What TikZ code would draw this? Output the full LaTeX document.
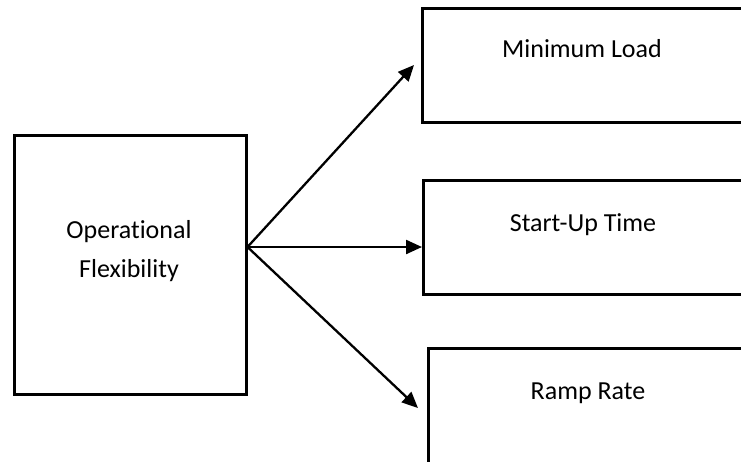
\documentclass[tikz,border=0pt]{standalone}
\usepackage{fontspec}
\setmainfont[Ligatures={NoCommon,NoRequired,NoContextual}]{Carlito}
\usetikzlibrary{arrows.meta,calc}
\begin{document}
\begin{tikzpicture}[x=1pt,y=-1pt,
  box/.style={draw=black, line width=2.5pt, rectangle, inner sep=0pt, anchor=north west},
  lbl/.style={font=\fontsize{26}{31}\selectfont, anchor=base, inner sep=0pt},
  conn/.style={line width=2.3pt, -{Triangle[length=16pt,width=14pt]}}]
\useasboundingbox (0,0) rectangle (741,461);
\clip (0,0) rectangle (741,461);
\fill[white] (0,0) rectangle (741,461);
% boxes
\node[box, minimum width=232pt, minimum height=259pt] (of) at (13,134) {};
\node[box, minimum width=322pt, minimum height=114pt] (ml) at (421,7) {};
\node[box, minimum width=324pt, minimum height=114pt] (su) at (422,179) {};
\node[box, minimum width=322pt, minimum height=140pt] (rr) at (427,347) {};
% labels
\node[lbl] (of1) at ($(of.north west)+(116,104)$) {Operational};
\node[lbl] (of2) at ($(of.north west)+(116,143)$) {Flexibility};
\node[lbl] (mlt) at ($(ml.north west)+(161,50)$) {Minimum Load};
\node[lbl] (sut) at ($(su.north west)+(161,52)$) {Start-Up Time};
\node[lbl] (rrt) at ($(rr.north west)+(161,52)$) {Ramp Rate};
% connectors
\coordinate (src) at ($(of.north east)+(0,113)$);
\coordinate (tml) at ($(ml.north west)+(-7,58)$);
\coordinate (tsu) at ($(su.north west)+(0,68)$);
\coordinate (trr) at ($(rr.north west)+(-9,61)$);
\draw[conn] (src) -- (tml);
\draw[conn] (src) -- (tsu);
\draw[conn] (src) -- (trr);
\end{tikzpicture}
\end{document}
